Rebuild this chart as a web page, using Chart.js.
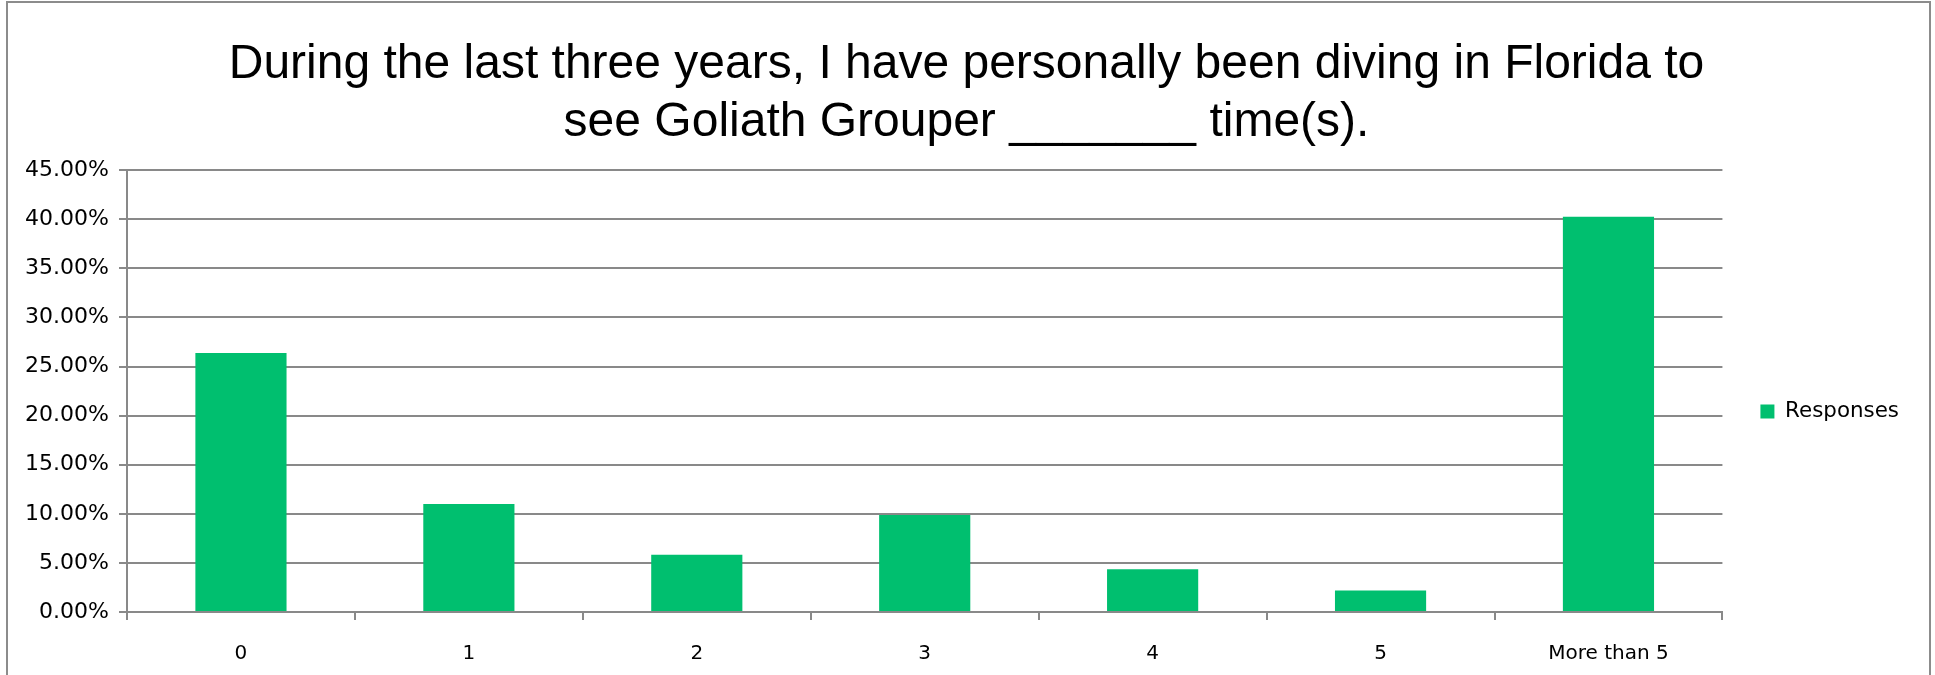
<!DOCTYPE html>
<html>
<head>
<meta charset="utf-8">
<script src="https://cdn.jsdelivr.net/npm/chart.js@4"></script>
<style>
  html, body { margin: 0; padding: 0; background: #fff; }
  #wrap { width: 1935px; height: 675px; }
</style>
</head>
<body>
<div id="wrap"><canvas id="barChart" width="1935" height="675"></canvas></div>
<script>
// categories (x axis)
const labels = ['0', '1', '2', '3', '4', '5', 'More than 5'];

// share of responses, in percent
const responses = [26.37, 10.99, 5.82, 9.89, 4.35, 2.2, 40.27];

// y axis ticks
const yTicks = [0, 5, 10, 15, 20, 25, 30, 35, 40, 45];

const titleLines = [
    'During the last three years, I have personally been diving in Florida to',
    'see Goliath Grouper _______ time(s).'
];

// outer frame around the chart
const framePlugin = {
    id: 'frame',
    beforeDraw(chart) {
        const c = chart.ctx;
        c.save();
        c.fillStyle = '#fff';
        c.fillRect(0, 0, chart.width, chart.height);
        c.strokeStyle = '#8c8c8c';
        c.lineWidth = 2;
        c.strokeRect(7, 2, chart.width - 12, chart.height + 20);
        c.restore();
    }
};

const gridGray = '#898989';

const ctx = document.getElementById('barChart');
const barChart = new Chart(ctx, {
    type: 'bar',
    data: {
        labels: labels,
        datasets: [{
            label: 'Responses',
            data: responses,
            backgroundColor: '#00BF6F',
            borderWidth: 0,
            barPercentage: 0.4,
            categoryPercentage: 1
        }]
    },
    options: {
        responsive: false,
        animation: false,
        layout: { padding: { left: 0, right: 2, top: 0, bottom: 0 } },
        plugins: {
            title: {
                display: true,
                text: titleLines,
                color: '#000',
                font: { family: 'Liberation Sans', size: 48, weight: 'normal', lineHeight: 1.2 },
                padding: { top: 36, bottom: 19 }
            },
            legend: {
                position: 'right',
                align: 'center',
                title: {
                    // empty title only used to push the single item down
                    display: true,
                    text: '',
                    padding: 62,
                    font: { size: 20 }
                },
                labels: {
                    boxWidth: 14,
                    boxHeight: 14,
                    padding: 38,
                    color: '#000',
                    font: { family: 'DejaVu Sans', size: 21.4 }
                }
            },
            tooltip: { enabled: false }
        },
        scales: {
            x: {
                offset: true,
                grid: {
                    offset: true,
                    drawOnChartArea: false,
                    drawTicks: true,
                    tickLength: 8,
                    color: gridGray,
                    lineWidth: 2
                },
                border: { display: true, color: gridGray, width: 2 },
                ticks: { color: '#000', font: { family: 'DejaVu Sans', size: 20 }, padding: 22, maxRotation: 0 },
                afterFit: s => { s.height = 63; }
            },
            y: {
                min: 0,
                max: 45,
                afterBuildTicks: s => { s.ticks = yTicks.map(v => ({ value: v })); },
                grid: {
                    color: gridGray,
                    lineWidth: 2,
                    tickLength: 8
                },
                border: { display: true, color: gridGray, width: 2 },
                ticks: {
                    color: '#000',
                    font: { family: 'DejaVu Sans', size: 22 },
                    padding: 10,
                    callback: v => v.toFixed(2) + '%'
                },
                afterFit: s => { s.width = 127; }
            },
            // empty spacer outside the legend, keeps the legend off the right edge
            spacer: {
                type: 'linear',
                position: 'right',
                weight: 2000,
                display: true,
                grid: { display: false },
                border: { display: false },
                ticks: { display: false },
                afterFit: s => { s.width = 24; }
            }
        }
    },
    plugins: [framePlugin]
});
</script>
</body>
</html>
